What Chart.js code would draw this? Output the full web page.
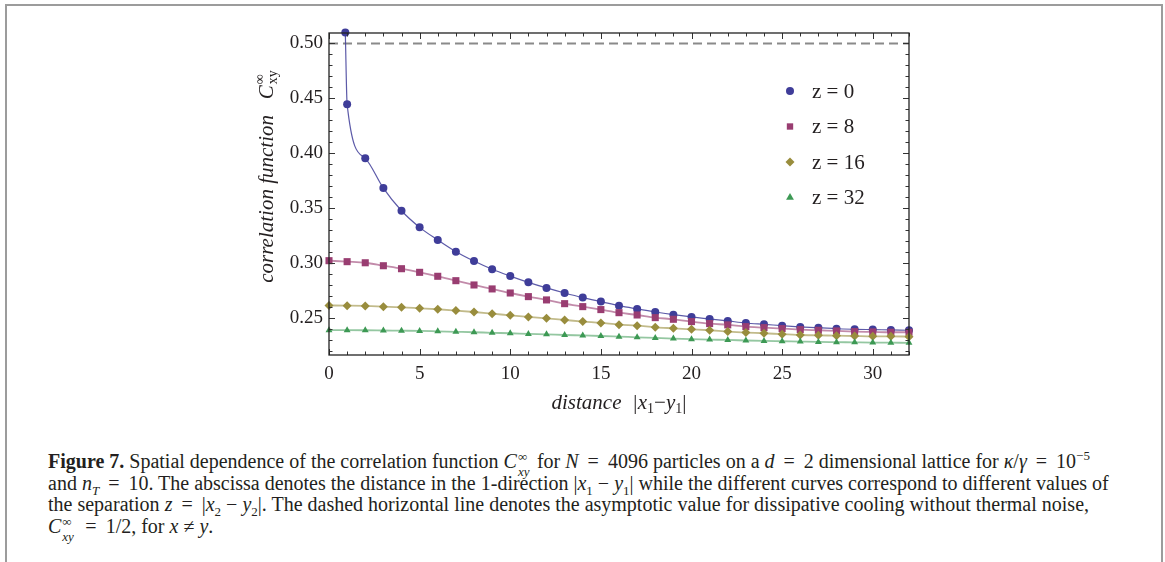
<!DOCTYPE html>
<html>
<head>
<meta charset="utf-8">
<script src="https://cdn.jsdelivr.net/npm/chart.js@4.4.0/dist/chart.umd.min.js"></script>
<style>
  html, body { margin: 0; padding: 0; background: #fff; overflow: hidden; }
  body { width: 1165px; height: 562px; position: relative; font-family: "Liberation Serif", "DejaVu Serif", serif; color: #231f20; }
  #frame { position: absolute; left: 5px; top: 4px; width: 1154px; height: 620px; border: 2px solid #9c9c9c; border-bottom: none; }
  #chartBox { position: absolute; left: 0; top: 0; width: 1165px; height: 420px; }
  #caption { position: absolute; left: 48px; top: 451px; font-size: 20px; line-height: 21.5px; }
  #caption div { white-space: nowrap; }
  .eq { margin: 0 4px; }
  .ss { position: relative; display: inline-block; width: 15px; height: 0.6em; }
  .ss .u { position: absolute; left: 1px; top: -6px; font-size: 13px; line-height: 13px; }
  .ss .d { position: absolute; left: 1px; top: 9px; font-size: 13px; line-height: 13px; font-style: italic; }
  sup, sub { font-size: 13px; line-height: 0; }
</style>
</head>
<body>
<div id="frame"></div>
<div id="chartBox"><canvas id="corrChart" width="1165" height="420"></canvas></div>
<div id="caption">
  <div><b>Figure 7.</b> Spatial dependence of the correlation function <i>C</i><span class="ss"><span class="u">∞</span><span class="d">xy</span></span> for <i>N</i> <span class="eq">=</span> 4096 particles on a <i>d</i> <span class="eq">=</span> 2 dimensional lattice for <i>κ</i>/<i>γ</i> <span class="eq">=</span> 10<sup>−5</sup></div>
  <div>and <i>n</i><sub><i>T</i></sub> <span class="eq">=</span> 10. The abscissa denotes the distance in the 1-direction |<i>x</i><sub>1</sub> − <i>y</i><sub>1</sub>| while the different curves correspond to different values of</div>
  <div>the separation <i>z</i> <span class="eq">=</span> |<i>x</i><sub>2</sub> − <i>y</i><sub>2</sub>|. The dashed horizontal line denotes the asymptotic value for dissipative cooling without thermal noise,</div>
  <div><i>C</i><span class="ss"><span class="u">∞</span><span class="d">xy</span></span> <span class="eq">=</span> 1/2, for <i>x</i> ≠ <i>y</i>.</div>
</div>
<script>
// distance |x1 - y1|
const distance = [0, 1, 2, 3, 4, 5, 6, 7, 8, 9, 10, 11, 12, 13, 14, 15, 16,
  17, 18, 19, 20, 21, 22, 23, 24, 25, 26, 27, 28, 29, 30, 31, 32];
// z = 0 curve leaves the top of the frame just before x = 1
const z0Distance = [0.9, 1, 2, 3, 4, 5, 6, 7, 8, 9, 10, 11, 12, 13, 14, 15, 16,
  17, 18, 19, 20, 21, 22, 23, 24, 25, 26, 27, 28, 29, 30, 31, 32];
const z0Values = [0.510, 0.4446, 0.3955, 0.3684, 0.3478, 0.3327, 0.3212, 0.3106, 0.3021,
  0.2946, 0.2884, 0.2827, 0.2776, 0.2730, 0.2688, 0.2652, 0.2615, 0.2585, 0.2557, 0.2533,
  0.2512, 0.2494, 0.2476, 0.2457, 0.2445, 0.2433, 0.2421, 0.2415, 0.2405, 0.2400, 0.2397,
  0.2394, 0.2391];
const z8Values = [0.3024, 0.3015, 0.3005, 0.2978, 0.2951, 0.2918, 0.2882, 0.2842, 0.2803,
  0.2767, 0.2730, 0.2697, 0.2667, 0.2633, 0.2606, 0.2579, 0.2551, 0.2530, 0.2506, 0.2491,
  0.2470, 0.2452, 0.2440, 0.2424, 0.2415, 0.2406, 0.2397, 0.2391, 0.2385, 0.2379, 0.2376,
  0.2373, 0.2373];
const z16Values = [0.2617, 0.2615, 0.2612, 0.2606, 0.2600, 0.2591, 0.2582, 0.2570, 0.2557,
  0.2542, 0.2527, 0.2512, 0.2500, 0.2485, 0.2470, 0.2458, 0.2442, 0.2433, 0.2418, 0.2409,
  0.2400, 0.2391, 0.2379, 0.2370, 0.2364, 0.2355, 0.2348, 0.2345, 0.2342, 0.2339, 0.2336,
  0.2336, 0.2333];
const z32Values = [0.2392, 0.2392, 0.2391, 0.2389, 0.2387, 0.2385, 0.2381, 0.2377, 0.2373,
  0.2368, 0.2364, 0.2358, 0.2354, 0.2348, 0.2344, 0.2339, 0.2333, 0.2327, 0.2321, 0.2315,
  0.2310, 0.2306, 0.2303, 0.2298, 0.2294, 0.2291, 0.2288, 0.2285, 0.2283, 0.2281, 0.2279,
  0.2278, 0.2277];
// dashed line: dissipative cooling without thermal noise
const asymptoteX = [0, 32];
const asymptoteY = [0.5, 0.5];

const seriesLabels = ['z = 0', 'z = 8', 'z = 16', 'z = 32'];
const xTickValues = [0, 5, 10, 15, 20, 25, 30];
const yTickValues = [0.25, 0.30, 0.35, 0.40, 0.45, 0.50];

const colors = ['#3f3d99', '#993d71', '#998d3d', '#3d9954'];
const lineColors = ['rgba(63,61,153,0.85)', 'rgba(153,61,113,0.6)', 'rgba(153,141,61,0.6)', 'rgba(61,153,84,0.55)'];
const markers = ['circle', 'rect', 'rectRot', 'triangle'];
const markerSizes = [4, 5, 4.5, 4];

function toPoints(xs, ys) {
  return xs.map((x, i) => ({ x: x, y: ys[i] }));
}

function drawMarker(ctx, style, x, y, r, color) {
  ctx.save();
  ctx.fillStyle = color;
  ctx.beginPath();
  if (style === 'circle') {
    ctx.arc(x, y, r, 0, Math.PI * 2);
  } else if (style === 'rect') {
    const s = r * Math.SQRT1_2;
    ctx.rect(x - s, y - s, 2 * s, 2 * s);
  } else if (style === 'rectRot') {
    ctx.moveTo(x, y - r); ctx.lineTo(x + r, y); ctx.lineTo(x, y + r); ctx.lineTo(x - r, y);
    ctx.closePath();
  } else {
    ctx.moveTo(x, y - r); ctx.lineTo(x + r * 0.87, y + r / 2); ctx.lineTo(x - r * 0.87, y + r / 2);
    ctx.closePath();
  }
  ctx.fill();
  ctx.restore();
}

// frame with inward ticks on all four sides
const frameTicks = {
  id: 'frameTicks',
  afterDraw(chart) {
    const ctx = chart.ctx;
    const a = chart.chartArea;
    const xs = chart.scales.x, ys = chart.scales.y;
    ctx.save();
    ctx.strokeStyle = '#333';
    ctx.lineWidth = 1;
    ctx.beginPath();
    distance.forEach(v => {
      const px = Math.round(xs.getPixelForValue(v)) + 0.5;
      const len = v % 5 === 0 ? 6 : 3.5;
      ctx.moveTo(px, a.bottom); ctx.lineTo(px, a.bottom - len);
      ctx.moveTo(px, a.top); ctx.lineTo(px, a.top + len);
    });
    for (let k = 22; k <= 50; k++) {
      const py = Math.round(ys.getPixelForValue(k / 100)) + 0.5;
      const len = k % 5 === 0 ? 6 : 3.5;
      ctx.moveTo(a.left, py); ctx.lineTo(a.left + len, py);
      ctx.moveTo(a.right, py); ctx.lineTo(a.right - len, py);
    }
    ctx.stroke();
    ctx.strokeStyle = '#222';
    ctx.lineWidth = 1.3;
    ctx.strokeRect(a.left, a.top, a.right - a.left, a.bottom - a.top);
    ctx.restore();
  }
};

// axis titles and legend
const textLayer = {
  id: 'textLayer',
  afterDraw(chart) {
    const ctx = chart.ctx;
    const a = chart.chartArea;
    ctx.save();
    ctx.fillStyle = '#231f20';
    ctx.textBaseline = 'alphabetic';

    const big = 'italic 21px "Liberation Serif"';
    const up = '21px "Liberation Serif"';
    const small = '14px "Liberation Serif"';

    // x title: distance |x1-y1|
    const xParts = [
      [big, 'distance  |', 0], [big, 'x', 0], [small, '1', 4], [up, '\u2212', 0],
      [big, 'y', 0], [small, '1', 4], [up, '|', 0]
    ];
    let w = 0;
    xParts.forEach(p => { ctx.font = p[0]; w += ctx.measureText(p[1]).width; });
    let x = (a.left + a.right) / 2 - w / 2;
    xParts.forEach(p => {
      ctx.font = p[0];
      ctx.fillText(p[1], x, 409 + p[2]);
      x += ctx.measureText(p[1]).width;
    });

    // y title, rotated
    ctx.save();
    ctx.translate(273, 177);
    ctx.rotate(-Math.PI / 2);
    ctx.font = big;
    const t1 = 'correlation function   C';
    const w1 = ctx.measureText(t1).width;
    ctx.font = small;
    const w2 = ctx.measureText('xy').width;
    let sx = -(w1 + w2) / 2;
    ctx.font = big;
    ctx.fillText(t1, sx, 0);
    sx += w1 + 1;
    ctx.font = small;
    ctx.fillText('\u221e', sx, -9);
    ctx.fillText('xy', sx, 4);
    ctx.restore();

    // legend
    ctx.font = up;
    ctx.textBaseline = 'middle';
    seriesLabels.forEach((lab, i) => {
      const ly = 91 + i * 35.5;
      drawMarker(ctx, markers[i], 790, ly, i === 0 ? 4 : 4.5, colors[i]);
      ctx.fillText(lab, 812, ly + 1);
    });
    ctx.restore();
  }
};

const seriesData = [
  toPoints(z0Distance, z0Values),
  toPoints(distance, z8Values),
  toPoints(distance, z16Values),
  toPoints(distance, z32Values)
];

const datasets = seriesData.map((pts, i) => ({
  label: seriesLabels[i],
  data: pts,
  borderColor: lineColors[i],
  borderWidth: i === 0 ? 1.2 : 1.8,
  backgroundColor: colors[i],
  pointBackgroundColor: colors[i],
  pointBorderColor: colors[i],
  pointBorderWidth: 0,
  pointStyle: markers[i],
  pointRadius: markerSizes[i],
  cubicInterpolationMode: 'monotone',
  clip: false,
  order: 4 - i
}));

datasets.push({
  label: 'asymptote',
  data: toPoints(asymptoteX, asymptoteY),
  borderColor: '#8a8a8a',
  borderWidth: 2,
  borderDash: [9, 5],
  pointRadius: 0,
  order: 10
});

Chart.defaults.font.family = '"Liberation Serif", serif';

new Chart(document.getElementById('corrChart'), {
  type: 'line',
  data: { datasets: datasets },
  plugins: [frameTicks, textLayer],
  options: {
    responsive: false,
    animation: false,
    layout: { padding: { left: 269, right: 256, top: 33, bottom: 25 } },
    plugins: { legend: { display: false }, tooltip: { enabled: false } },
    scales: {
      x: {
        type: 'linear',
        min: 0,
        max: 32,
        grid: { display: false, drawTicks: false },
        border: { display: false },
        afterBuildTicks: s => { s.ticks = xTickValues.map(v => ({ value: v })); },
        afterFit: s => { s.height = 40; },
        ticks: { color: '#231f20', font: { size: 19 }, padding: 8, maxRotation: 0 }
      },
      y: {
        type: 'linear',
        min: 0.2166,
        max: 0.5095,
        grid: { display: false, drawTicks: false },
        border: { display: false },
        afterBuildTicks: s => { s.ticks = yTickValues.map(v => ({ value: v })); },
        afterFit: s => { s.width = 60; },
        ticks: { color: '#231f20', font: { size: 19 }, padding: 6, callback: v => v.toFixed(2) }
      }
    }
  }
});
</script>
</body>
</html>
